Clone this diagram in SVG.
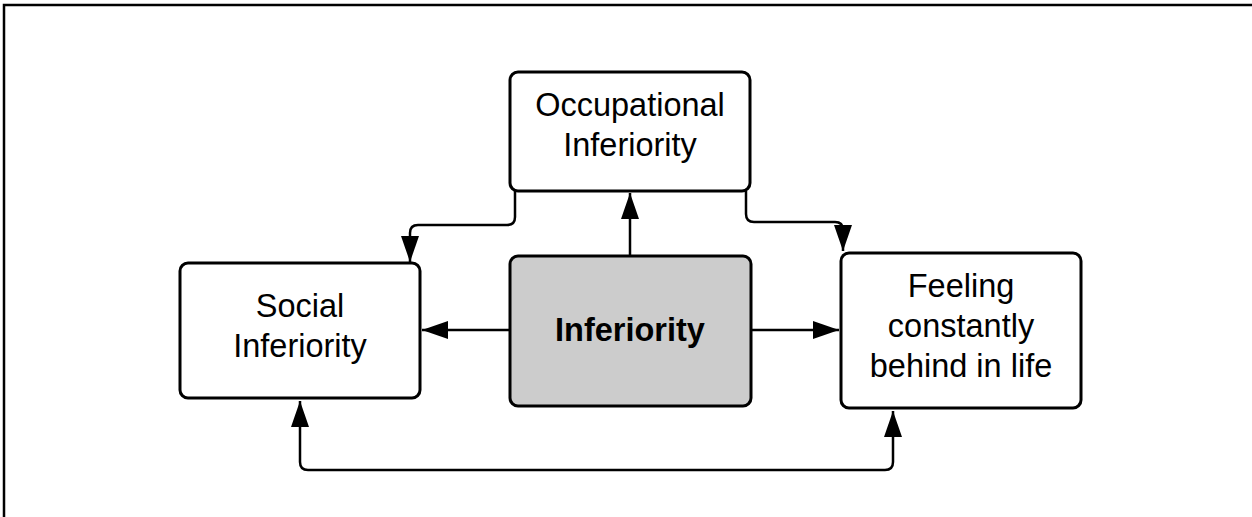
<svg xmlns="http://www.w3.org/2000/svg" width="1252" height="517" viewBox="0 0 1252 517">
  <style>
    .box { fill: #ffffff; stroke: #000000; stroke-width: 3; }
    .core { fill: #cccccc; stroke: #000000; stroke-width: 3; }
    .lbl { font-family: "Liberation Sans", Arial, sans-serif; font-size: 32.5px; fill: #000000; text-anchor: middle; }
    .bold { font-weight: bold; }
    .edge { fill: none; stroke: #000000; stroke-width: 2.5; }
    .frame { fill: none; stroke: #000000; stroke-width: 2.5; }
  </style>
  <defs>
    <marker id="arrow" viewBox="0 0 26 18" refX="26" refY="9" markerWidth="26" markerHeight="18" markerUnits="userSpaceOnUse" orient="auto-start-reverse">
      <path d="M0,0 L26,9 L0,18 Z" fill="#000000"/>
    </marker>
  </defs>

  <rect width="1252" height="517" fill="#ffffff"/>
  <path class="frame" d="M4,517 V5 H1252"/>

  <g id="connectors">
    <!-- Inferiority to Occupational -->
    <path class="edge" d="M630,255 V193" marker-end="url(#arrow)"/>
    <!-- Inferiority to Social -->
    <path class="edge" d="M510,330 H422" marker-end="url(#arrow)"/>
    <!-- Inferiority to Feeling -->
    <path class="edge" d="M751,330 H839" marker-end="url(#arrow)"/>
    <!-- Occupational to Social -->
    <path class="edge" d="M515,191 V217 Q515,225 507,225 H418 Q410,225 410,233 V262" marker-end="url(#arrow)"/>
    <!-- Occupational to Feeling -->
    <path class="edge" d="M746,191 V214 Q746,222 754,222 H835 Q843,222 843,230 V251" marker-end="url(#arrow)"/>
    <!-- Social and Feeling, both ways -->
    <path class="edge" d="M300,401 V462 Q300,470 308,470 H885 Q893,470 893,462 V411" marker-start="url(#arrow)" marker-end="url(#arrow)"/>
  </g>

  <g id="node-occupational">
    <rect class="box" x="510" y="72" width="240" height="119" rx="8"/>
    <text class="lbl" x="630" y="116">Occupational</text>
    <text class="lbl" x="630" y="156">Inferiority</text>
  </g>

  <g id="node-social">
    <rect class="box" x="180" y="263" width="240" height="135" rx="8"/>
    <text class="lbl" x="300" y="317">Social</text>
    <text class="lbl" x="300" y="357">Inferiority</text>
  </g>

  <g id="node-inferiority">
    <rect class="core" x="510" y="256" width="241" height="150" rx="8"/>
    <text class="lbl bold" x="630" y="341">Inferiority</text>
  </g>

  <g id="node-feeling">
    <rect class="box" x="841" y="253" width="240" height="155" rx="8"/>
    <text class="lbl" x="961" y="297">Feeling</text>
    <text class="lbl" x="961" y="337">constantly</text>
    <text class="lbl" x="961" y="377">behind in life</text>
  </g>
</svg>
